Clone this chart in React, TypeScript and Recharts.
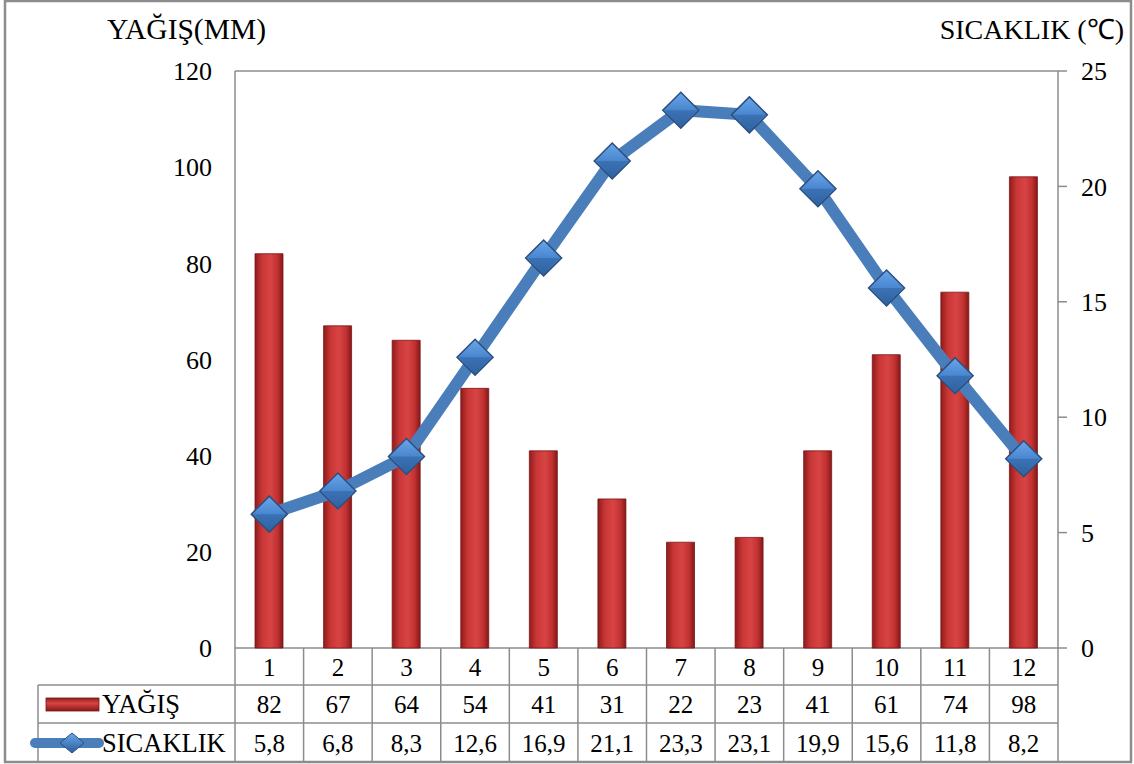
import React from 'react';
import {
  ComposedChart,
  Bar,
  Line,
  XAxis,
  YAxis,
  CartesianGrid,
} from 'recharts';

const months = ['1', '2', '3', '4', '5', '6', '7', '8', '9', '10', '11', '12'];
const rain = [82, 67, 64, 54, 41, 31, 22, 23, 41, 61, 74, 98];
const temp = [5.8, 6.8, 8.3, 12.6, 16.9, 21.1, 23.3, 23.1, 19.9, 15.6, 11.8, 8.2];
const rainTicks = [0, 20, 40, 60, 80, 100, 120];
const tempTicks = [0, 5, 10, 15, 20, 25];

const data = months.map((m, i) => ({ month: m, rain: rain[i], temp: temp[i] }));

const W = 1134;
const H = 764;
const PLOT_LEFT = 235;
const PLOT_RIGHT = 1058;
const PLOT_TOP = 71;
const PLOT_BOTTOM = 648;
const ROW1 = 685;
const ROW2 = 723;
const ROW3 = 762;
const BAND = (PLOT_RIGHT - PLOT_LEFT) / months.length;
const GRID = '#8c8c8c';
const FONT = '"Liberation Serif", "Times New Roman", serif';

const fmt = (v: number) => String(v).replace('.', ',');

// Table column drawn under each category tick
const TableTick = (props: any) => {
  const { x, payload } = props;
  const i = payload.index;
  const left = x - BAND / 2;
  const right = x + BAND / 2;
  return (
    <g>
      <line x1={left} y1={PLOT_BOTTOM} x2={left} y2={ROW3} stroke={GRID} strokeWidth={1.5} />
      {i === months.length - 1 && (
        <line x1={right} y1={PLOT_BOTTOM} x2={right} y2={ROW3} stroke={GRID} strokeWidth={1.5} />
      )}
      <text x={x} y={(PLOT_BOTTOM + ROW1) / 2 + 9} textAnchor="middle" fontSize={25} fontFamily={FONT} fill="#000">
        {months[i]}
      </text>
      <text x={x} y={(ROW1 + ROW2) / 2 + 9} textAnchor="middle" fontSize={25} fontFamily={FONT} fill="#000">
        {rain[i]}
      </text>
      <text x={x} y={(ROW2 + ROW3) / 2 + 9} textAnchor="middle" fontSize={25} fontFamily={FONT} fill="#000">
        {fmt(temp[i])}
      </text>
    </g>
  );
};

const Diamond = (props: any) => {
  const { cx, cy } = props;
  if (cx == null || cy == null) return null;
  const r = 18;
  return (
    <g>
      <polygon
        points={`${cx},${cy - r} ${cx + r},${cy} ${cx},${cy + r} ${cx - r},${cy}`}
        fill="url(#diamondGrad)"
        stroke="#2b4f7e"
        strokeWidth={1.5}
      />
      <polygon
        points={`${cx - r + 2},${cy} ${cx + r - 2},${cy} ${cx},${cy + r - 2}`}
        fill="#2f62a0"
        opacity={0.55}
      />
    </g>
  );
};

export default function App() {
  return (
    <div style={{ position: 'absolute', left: 0, top: 0, width: W, height: H, background: '#fff' }}>
      <ComposedChart
        width={W}
        height={H}
        data={data}
        margin={{ top: PLOT_TOP, right: 0, bottom: 0, left: 0 }}
      >
        <defs>
          <linearGradient id="barGrad" x1="0" y1="0" x2="1" y2="0">
            <stop offset="0%" stopColor="#8e1c1c" />
            <stop offset="25%" stopColor="#c93636" />
            <stop offset="55%" stopColor="#d84444" />
            <stop offset="80%" stopColor="#c23232" />
            <stop offset="100%" stopColor="#861818" />
          </linearGradient>
          <linearGradient id="diamondGrad" x1="0" y1="0" x2="0" y2="1">
            <stop offset="0%" stopColor="#6aa6ea" />
            <stop offset="50%" stopColor="#4a86cf" />
            <stop offset="100%" stopColor="#2d5f9e" />
          </linearGradient>
        </defs>
        <CartesianGrid vertical={false} stroke={GRID} strokeWidth={1.5} />
        <XAxis
          dataKey="month"
          xAxisId={0}
          height={H - PLOT_BOTTOM}
          axisLine={false}
          tickLine={false}
          tick={<TableTick />}
          interval={0}
        />
        <YAxis
          yAxisId="left"
          width={PLOT_LEFT}
          domain={[0, 120]}
          ticks={rainTicks}
          axisLine={{ stroke: GRID, strokeWidth: 1.5 }}
          tickLine={false}
          tickSize={0}
          tickMargin={23}
          tick={{ fontSize: 26, fontFamily: FONT, fill: '#000' }}
        />
        <YAxis
          yAxisId="right"
          orientation="right"
          width={W - PLOT_RIGHT}
          domain={[0, 25]}
          ticks={tempTicks}
          axisLine={{ stroke: GRID, strokeWidth: 1.5 }}
          tickLine={{ stroke: GRID, strokeWidth: 1.5 }}
          tickSize={9}
          tickMargin={14}
          tick={{ fontSize: 26, fontFamily: FONT, fill: '#000' }}
        />
        <Bar
          yAxisId="left"
          dataKey="rain"
          barSize={28}
          fill="url(#barGrad)"
          stroke="#7a1515"
          strokeWidth={0.8}
          isAnimationActive={false}
        />
        <Line
          yAxisId="right"
          dataKey="temp"
          type="linear"
          stroke="#4a7ebb"
          strokeWidth={12}
          dot={<Diamond />}
          activeDot={false}
          isAnimationActive={false}
        />
      </ComposedChart>
      <svg
        width={W}
        height={H}
        style={{ position: 'absolute', left: 0, top: 0, pointerEvents: 'none' }}
      >
        <defs>
          <linearGradient id="legBar" x1="0" y1="0" x2="0" y2="1">
            <stop offset="0%" stopColor="#8e1c1c" />
            <stop offset="40%" stopColor="#d84444" />
            <stop offset="100%" stopColor="#861818" />
          </linearGradient>
          <linearGradient id="legDia" x1="0" y1="0" x2="0" y2="1">
            <stop offset="0%" stopColor="#6aa6ea" />
            <stop offset="100%" stopColor="#2d5f9e" />
          </linearGradient>
        </defs>
        <rect x={5} y={1} width={1126} height={761} fill="none" stroke={GRID} strokeWidth={2.5} />
        <line x1={38} y1={ROW1} x2={PLOT_RIGHT} y2={ROW1} stroke={GRID} strokeWidth={1.5} />
        <line x1={38} y1={ROW2} x2={PLOT_RIGHT} y2={ROW2} stroke={GRID} strokeWidth={1.5} />
        <line x1={38} y1={ROW1} x2={38} y2={ROW3} stroke={GRID} strokeWidth={1.5} />
        <rect x={46} y={698} width={53} height={13} fill="url(#legBar)" stroke="#7a1515" strokeWidth={0.8} />
        <text x={102} y={713} fontSize={26.5} fontFamily={FONT} fill="#000">YAĞIŞ</text>
        <line x1={35} y1={743} x2={99} y2={743} stroke="#4a7ebb" strokeWidth={10} strokeLinecap="round" />
        <polygon points="72,733 84,743 72,753 60,743" fill="url(#legDia)" stroke="#2b4f7e" strokeWidth={1} />
        <text x={102} y={752} fontSize={26.5} fontFamily={FONT} fill="#000">SICAKLIK</text>
        <text x={107} y={39} fontSize={29.5} fontFamily={FONT} fill="#000">YAĞIŞ(MM)</text>
        <text x={1124} y={39} textAnchor="end" fontSize={28} fontFamily={FONT} fill="#000">SICAKLIK (℃)</text>
      </svg>
    </div>
  );
}
